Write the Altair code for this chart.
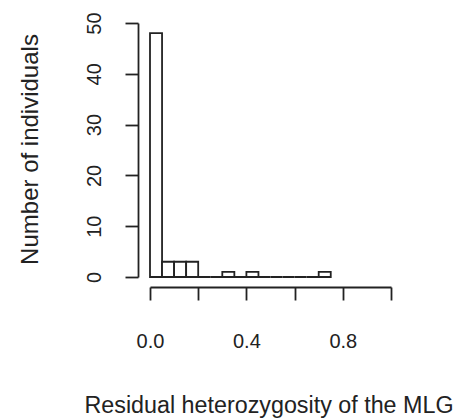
import altair as alt
import pandas as pd

bin_starts = [0.00, 0.05, 0.10, 0.15, 0.20, 0.25, 0.30, 0.35, 0.40, 0.45, 0.50, 0.55, 0.60, 0.65, 0.70]
bin_ends = [0.05, 0.10, 0.15, 0.20, 0.25, 0.30, 0.35, 0.40, 0.45, 0.50, 0.55, 0.60, 0.65, 0.70, 0.75]
counts = [48, 3, 3, 3, 0, 0, 1, 0, 1, 0, 0, 0, 0, 0, 1]

x_ticks = [0.0, 0.2, 0.4, 0.6, 0.8, 1.0]
x_labelled = ["0.0", "0.4", "0.8"]
y_ticks = [0, 10, 20, 30, 40, 50]

df = pd.DataFrame({"start": bin_starts, "end": bin_ends, "count": counts, "base": [0] * len(counts)})

ink = "#222222"
font = "Liberation Sans"

label_expr = "indexof(" + str(x_labelled).replace("'", '"') + ", datum.label) >= 0 ? datum.label : ''"

chart = alt.Chart(df).mark_rect(fill="white", stroke=ink, strokeWidth=1.8).encode(
    x=alt.X("start:Q",
            scale=alt.Scale(domain=[0, 1], nice=False, zero=False),
            axis=alt.Axis(values=x_ticks, format=".1f", labelExpr=label_expr,
                          title="Residual heterozygosity of the MLG",
                          offset=10, tickSize=13, labelPadding=47,
                          labelBaseline="alphabetic", labelFontSize=20,
                          labelOverlap=False, labelFlush=False,
                          titleFontSize=23.3, titleFontWeight="normal",
                          titleBaseline="alphabetic", titleAlign="center",
                          titleX=118.5, titleY=125,
                          grid=False)),
    x2="end:Q",
    y=alt.Y("count:Q",
            scale=alt.Scale(domain=[0, 50], nice=False),
            axis=alt.Axis(values=y_ticks, title="Number of individuals",
                          offset=12, tickSize=13, labelPadding=25,
                          labelAngle=270, labelAlign="center", labelBaseline="alphabetic",
                          labelFontSize=20, labelOverlap=False, labelFlush=False,
                          titleFontSize=24, titleFontWeight="normal",
                          titleAngle=270, titleAlign="center", titleBaseline="alphabetic",
                          titleX=-101, titleY=126,
                          grid=False)),
    y2="base:Q",
).properties(
    width=241, height=254,
    autosize="none",
    padding={"left": 142, "top": 15, "right": 65, "bottom": 150},
).configure_axis(
    domainColor=ink, domainWidth=1.8, tickColor=ink, tickWidth=1.8,
    labelColor=ink, titleColor=ink, labelFont=font, titleFont=font,
).configure_view(stroke=None)

chart.save("out.html", embed_options={"renderer": "svg", "actions": False})
